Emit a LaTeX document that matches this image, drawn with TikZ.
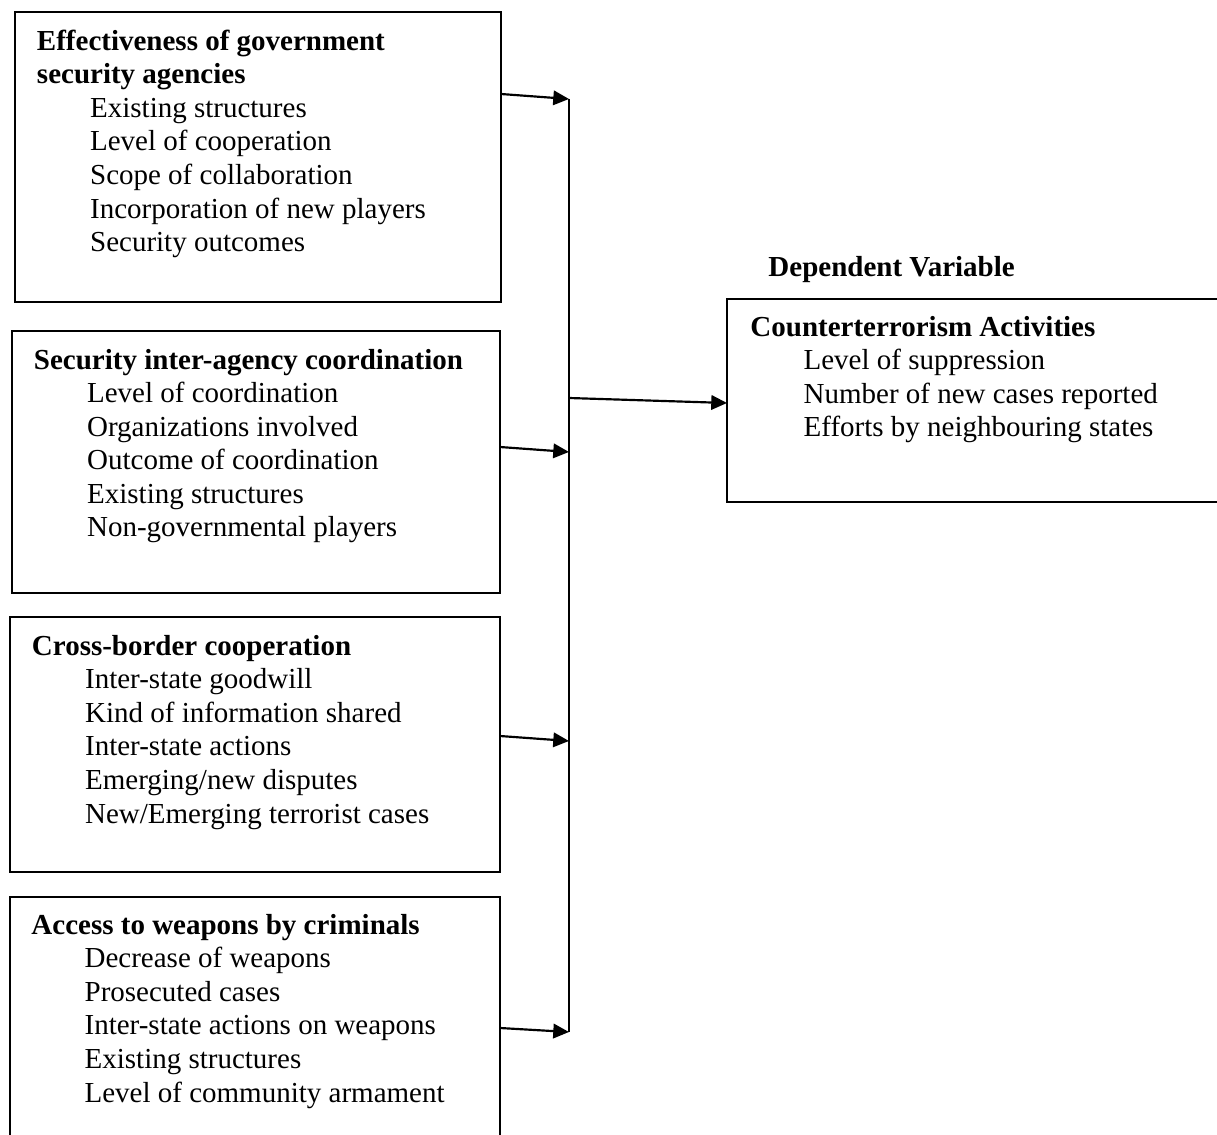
\documentclass[tikz,border=0pt]{standalone}
\usepackage{fontspec}
\setmainfont{Liberation Serif}
\usetikzlibrary{arrows.meta,fit}
\newcommand\itemind{\hspace*{22pt}}
\begin{document}
\begin{tikzpicture}[x=0.4138pt,y=-0.4138pt,
  box/.style={draw, line width=0.65pt, inner sep=0pt, outer sep=0pt},
  txt/.style={anchor=base west, align=left, inner sep=0pt, font=\fontsize{12}{13.9}\selectfont},
  arr/.style={line width=0.9pt, -{Triangle[length=6.5pt,width=6pt]}},
  bus/.style={line width=0.55pt}]
\useasboundingbox (0,0) rectangle (1217,1135);

% boxes
\node[box, fit={(15,12) (501,302)}] (b1) {};
\node[box, fit={(12,331) (500,593)}] (b2) {};
\node[box, fit={(10,617) (500,872)}] (b3) {};
\node[box, fit={(10,897) (500,1150)}] (b4) {};
\node[box, fit={(727,299) (1230,502)}] (b5) {};

% texts (anchored at the baseline of their last line)
\node[txt] (t1) at (36.5,251.6) {\textbf{Effectiveness of government}\\\textbf{security agencies}\\
\itemind Existing structures\\\itemind Level of cooperation\\\itemind Scope of collaboration\\
\itemind Incorporation of new players\\\itemind Security outcomes};
\node[txt] (t2) at (33.5,537) {\textbf{Security inter-agency coordination}\\
\itemind Level of coordination\\\itemind Organizations involved\\\itemind Outcome of coordination\\
\itemind Existing structures\\\itemind Non-governmental players};
\node[txt] (t3) at (31.5,823) {\textbf{Cross-border cooperation}\\
\itemind Inter-state goodwill\\\itemind Kind of information shared\\\itemind Inter-state actions\\
\itemind Emerging/new disputes\\\itemind New/Emerging terrorist cases};
\node[txt] (t4) at (31,1102) {\textbf{Access to weapons by criminals}\\
\itemind Decrease of weapons\\\itemind Prosecuted cases\\\itemind Inter-state actions on weapons\\
\itemind Existing structures\\\itemind Level of community armament};
\node[txt] (t5) at (750,437) {\textbf{Counterterrorism Activities}\\
\itemind Level of suppression\\\itemind Number of new cases reported\\\itemind Efforts by neighbouring states};
\node[txt] (dv) at (768,277) {\textbf{Dependent Variable}};

% bus and arrows
\coordinate (j1) at (569,99);
\coordinate (j2) at (569,452);
\coordinate (j3) at (569,741);
\coordinate (j4) at (569,1032);
\coordinate (jm) at (569,398);
\draw[bus] (j1) -- (j4);
\draw[arr] (b1.east |- 0,94) -- (j1);
\draw[arr] (b2.east |- 0,447) -- (j2);
\draw[arr] (b3.east |- 0,736) -- (j3);
\draw[arr] (b4.east |- 0,1028) -- (j4);
\draw[arr] (jm) -- (b5.west |- 0,403);
\end{tikzpicture}
\end{document}
